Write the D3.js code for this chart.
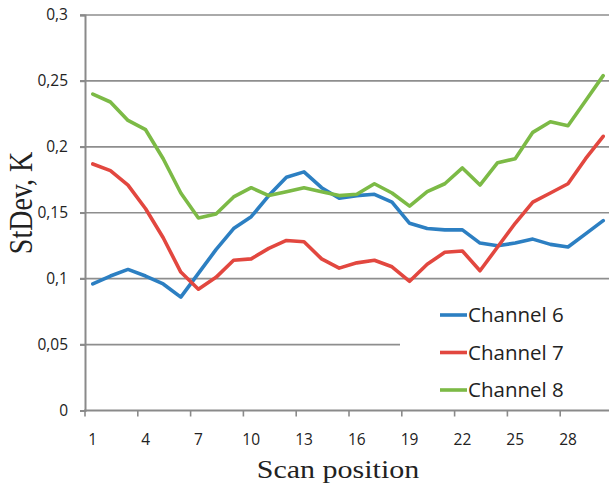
<!DOCTYPE html>
<html>
<head>
<meta charset="utf-8">
<script src="https://cdn.jsdelivr.net/npm/d3@7"></script>
<style>
  html, body { margin: 0; padding: 0; background: #fff; }
  svg { display: block; }
</style>
</head>
<body>
<svg id="chart" width="609" height="490"></svg>
<script>
// Scan positions 1..30
const positions = d3.range(1, 31);

// Standard deviation (K) per scan position
const channel6 = [0.096, 0.102, 0.107, 0.102, 0.096, 0.086, 0.104, 0.122, 0.138, 0.147,
                  0.163, 0.177, 0.181, 0.169, 0.161, 0.163, 0.164, 0.158, 0.142, 0.138,
                  0.137, 0.137, 0.127, 0.125, 0.127, 0.130, 0.126, 0.124, 0.134, 0.144];
const channel7 = [0.187, 0.182, 0.171, 0.153, 0.131, 0.105, 0.092, 0.101, 0.114, 0.115,
                  0.123, 0.129, 0.128, 0.115, 0.108, 0.112, 0.114, 0.109, 0.098, 0.111,
                  0.120, 0.121, 0.106, 0.124, 0.142, 0.158, 0.165, 0.172, 0.191, 0.208];
const channel8 = [0.240, 0.234, 0.220, 0.213, 0.191, 0.165, 0.146, 0.149, 0.162, 0.169,
                  0.163, 0.166, 0.169, 0.166, 0.163, 0.164, 0.172, 0.165, 0.155, 0.166,
                  0.172, 0.184, 0.171, 0.188, 0.191, 0.211, 0.219, 0.216, 0.235, 0.254];

const seriesNames = ["Channel 6", "Channel 7", "Channel 8"];
const seriesColors = ["#2c7fc2", "#e2473f", "#7cba46"];
const seriesValues = [channel6, channel7, channel8];

const yTicks = [0, 0.05, 0.1, 0.15, 0.2, 0.25, 0.3];
const xTickLabels = [1, 4, 7, 10, 13, 16, 19, 22, 25, 28];

const svg = d3.select("#chart");
const plotLeft = 84, bandEnd = 612, plotTop = 15, plotBottom = 410.5;
const plotRight = 609;

const x = d3.scaleBand().domain(positions).range([plotLeft, bandEnd]).paddingInner(0).paddingOuter(0);
const cx = d => x(d) + x.bandwidth() / 2;
const y = d3.scaleLinear().domain([0, 0.3]).range([plotBottom, plotTop]);

const gridColor = "#8e8e8e";
const axisColor = "#8a8a8a";
const fmt = v => String(+v.toFixed(2)).replace(".", ",");

// Horizontal gridlines (the 0.05 line is hidden behind the legend box on the right)
svg.append("g")
  .selectAll("line")
  .data(yTicks.filter(v => v > 0))
  .join("line")
  .attr("x1", plotLeft - 4)
  .attr("x2", plotRight)
  .attr("y1", d => y(d))
  .attr("y2", d => y(d))
  .attr("stroke", gridColor)
  .attr("stroke-width", 1.6);

// Y axis
const yAxis = svg.append("g")
  .attr("transform", `translate(${plotLeft + 1},0)`)
  .call(d3.axisLeft(y).tickValues(yTicks).tickSize(5).tickPadding(12).tickFormat(fmt));
yAxis.select(".domain").attr("stroke", axisColor).attr("stroke-width", 2);
yAxis.selectAll(".tick line").attr("stroke", axisColor).attr("stroke-width", 1.6);
yAxis.selectAll("text")
  .attr("font-family", "'Open Sans', sans-serif")
  .attr("font-size", 15.5)
  .attr("fill", "#222");

// X axis: tick marks every third category boundary, labels centred on categories
const xAxisG = svg.append("g");
xAxisG.append("line")
  .attr("x1", plotLeft).attr("x2", plotRight)
  .attr("y1", plotBottom).attr("y2", plotBottom)
  .attr("stroke", axisColor).attr("stroke-width", 2);
xAxisG.selectAll("line.tick")
  .data(xTickLabels)
  .join("line")
  .attr("class", "tick")
  .attr("x1", d => x(d) + 1).attr("x2", d => x(d) + 1)
  .attr("y1", plotBottom).attr("y2", plotBottom + 6)
  .attr("stroke", axisColor).attr("stroke-width", 1.6);
xAxisG.selectAll("text")
  .data(xTickLabels)
  .join("text")
  .attr("x", d => cx(d))
  .attr("y", 445)
  .attr("text-anchor", "middle")
  .attr("font-family", "'Open Sans', sans-serif")
  .attr("font-size", 15.5)
  .attr("fill", "#222")
  .text(d => d);

// Axis titles
svg.append("text")
  .attr("transform", "translate(338,478) scale(1.2,1)")
  .attr("text-anchor", "middle")
  .attr("font-family", "'Liberation Serif', 'Times New Roman', serif")
  .attr("font-size", 25)
  .attr("fill", "#222")
  .text("Scan position");

svg.append("text")
  .attr("transform", "translate(32,203) scale(1.2,1) rotate(-90)")
  .attr("text-anchor", "middle")
  .attr("font-family", "'Liberation Serif', 'Times New Roman', serif")
  .attr("font-size", 28)
  .attr("fill", "#222")
  .text("StDev, K");

// Series lines
const line = d3.line()
  .x((d, i) => cx(positions[i]))
  .y(d => y(d));

svg.append("g")
  .selectAll("path")
  .data(seriesValues)
  .join("path")
  .attr("d", d => line(d))
  .attr("fill", "none")
  .attr("stroke", (d, i) => seriesColors[i])
  .attr("stroke-width", 3.6)
  .attr("stroke-linejoin", "round")
  .attr("stroke-linecap", "round");

// Legend box
const legend = svg.append("g");
legend.append("rect")
  .attr("x", 400).attr("y", 292)
  .attr("width", 209).attr("height", 114)
  .attr("fill", "#fff");
const legendY = [315, 352.5, 390];
const items = legend.selectAll("g.item")
  .data(seriesNames)
  .join("g")
  .attr("class", "item")
  .attr("transform", (d, i) => `translate(0,${legendY[i]})`);
items.append("line")
  .attr("x1", 440).attr("x2", 467)
  .attr("y1", 0).attr("y2", 0)
  .attr("stroke", (d, i) => seriesColors[i])
  .attr("stroke-width", 3.6);
items.append("text")
  .attr("x", 468)
  .attr("y", 0)
  .attr("dy", "0.36em")
  .attr("font-family", "'Open Sans', sans-serif")
  .attr("font-size", 20.5)
  .attr("fill", "#222")
  .text(d => d);
</script>
</body>
</html>
